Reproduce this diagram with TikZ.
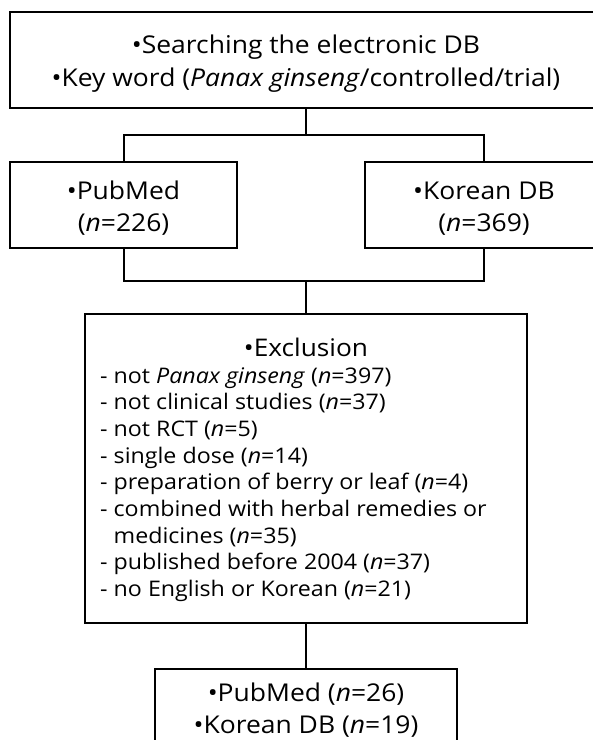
\documentclass[tikz,border=0pt]{standalone}
\usepackage{fontspec}
\setmainfont{Open Sans}[FakeStretch=1.08]
\begin{document}
\begin{tikzpicture}[x=1pt,y=-1pt,
  box/.style={draw=black, line width=2.4pt, rectangle, inner sep=0pt},
  conn/.style={draw=black, line width=2pt},
  lbl/.style={inner sep=0pt, anchor=base},
  bigtext/.style={lbl, font=\fontsize{24.5}{33}\selectfont},
  headtext/.style={lbl, font=\fontsize{24.3}{30}\selectfont},
  listtext/.style={inner sep=0pt, anchor=base west, align=left, font=\fontsize{21.5}{26.7}\selectfont}
]
\useasboundingbox (0,0) rectangle (593,740);
\clip (0,0) rectangle (593,740);
% boxes
\node[box, minimum width=592pt, minimum height=96pt] (top) at (306,60) {};
\node[box, minimum width=227pt, minimum height=86pt] (pub) at (123.5,205) {};
\node[box, minimum width=238pt, minimum height=86pt] (kor) at (484,205) {};
\node[box, minimum width=442pt, minimum height=309pt] (excl) at (306,468.5) {};
\node[box, minimum width=302pt, minimum height=100pt, anchor=north] (fin) at (306,668) {};
% texts
\node[bigtext] (t1) at (306,53) {•Searching the electronic DB};
\node[bigtext] (t2) at (306,86) {•Key word (\textit{Panax ginseng}/controlled/trial)};
\node[bigtext] (p1) at (123.5,199) {•PubMed};
\node[bigtext] (p2) at (123.5,231) {(\textit{n}=226)};
\node[bigtext] (k1) at (484,199) {•Korean DB};
\node[bigtext] (k2) at (484,231) {(\textit{n}=369)};
\node[headtext] (exh) at (306,356) {•Exclusion};
\node[listtext] (exl) at (100,596.6)
  {- not \textit{Panax ginseng} (\textit{n}=397)\\
   - not clinical studies (\textit{n}=37)\\
   - not RCT (\textit{n}=5)\\
   - single dose (\textit{n}=14)\\
   - preparation of berry or leaf (\textit{n}=4)\\
   - combined with herbal remedies or\\
   \hphantom{- }medicines (\textit{n}=35)\\
   - published before 2004 (\textit{n}=37)\\
   - no English or Korean (\textit{n}=21)};
\node[bigtext] (f1) at (306,701) {•PubMed (\textit{n}=26)};
\node[bigtext] (f2) at (306,733) {•Korean DB (\textit{n}=19)};
% connectors
\coordinate (split) at (306,135);
\coordinate (merge) at (306,281);
\draw[conn] (top.south) -- (split);
\draw[conn] (pub.north) |- (split) -| (kor.north);
\draw[conn] (pub.south) |- (merge) -| (kor.south);
\draw[conn] (merge) -- (excl.north);
\draw[conn] (excl.south) -- (fin.north);
\end{tikzpicture}
\end{document}
